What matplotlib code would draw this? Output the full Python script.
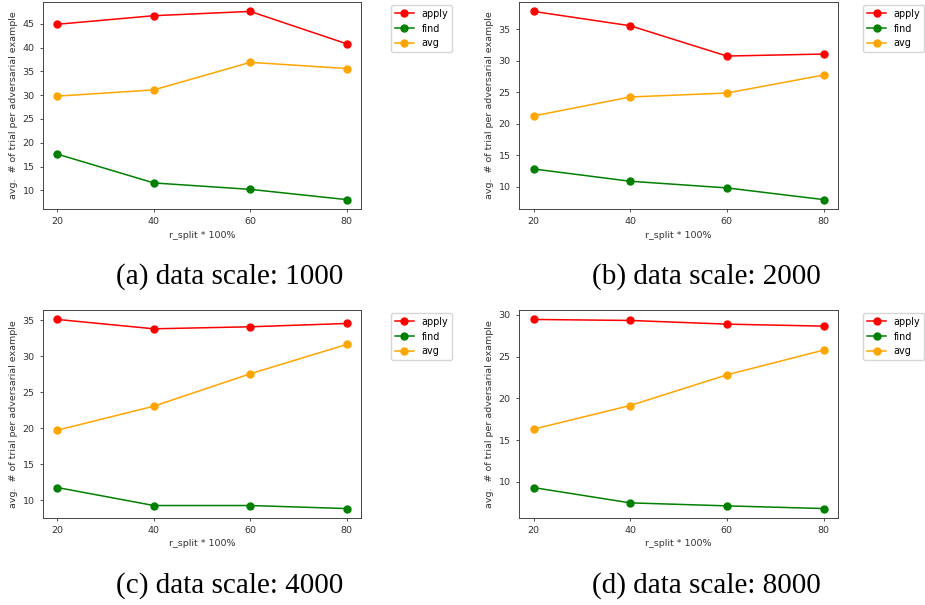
import matplotlib.pyplot as plt

r_split = [20, 40, 60, 80]

# (a) data scale 1000
apply_1000 = [44.9, 46.7, 47.6, 40.8]
find_1000 = [17.6, 11.55, 10.2, 8.05]
avg_1000 = [29.8, 31.1, 36.9, 35.6]

# (b) data scale 2000
apply_2000 = [37.86, 35.58, 30.76, 31.08]
find_2000 = [12.8, 10.85, 9.79, 7.93]
avg_2000 = [21.23, 24.25, 24.88, 27.74]

# (c) data scale 4000
apply_4000 = [35.14, 33.84, 34.12, 34.58]
find_4000 = [11.76, 9.26, 9.26, 8.84]
avg_4000 = [19.74, 23.08, 27.58, 31.66]

# (d) data scale 8000
apply_8000 = [29.44, 29.32, 28.88, 28.64]
find_8000 = [9.32, 7.49, 7.13, 6.81]
avg_8000 = [16.31, 19.14, 22.81, 25.77]

captions = ["(a) data scale: 1000", "(b) data scale: 2000",
            "(c) data scale: 4000", "(d) data scale: 8000"]
panels = [(apply_1000, find_1000, avg_1000),
          (apply_2000, find_2000, avg_2000),
          (apply_4000, find_4000, avg_4000),
          (apply_8000, find_8000, avg_8000)]

W, H = 925, 605
fig = plt.figure(figsize=(W / 100, H / 100), dpi=100)

# axes boxes in pixels: left, top, right, bottom
boxes = [(43, 2, 361, 209), (519, 2, 838, 209),
         (43, 310, 361, 518), (519, 310, 838, 518)]
cap_y = [277, 277, 586, 586]
# right-hand legends sit a little closer so the labels stay on the canvas
leg_x = [1.085, 1.07, 1.085, 1.07]

for i, (box, data) in enumerate(zip(boxes, panels)):
    l, t, r, b = box
    ax = fig.add_axes([l / W, 1 - b / H, (r - l) / W, (b - t) / H])
    a, f, v = data
    ax.plot(r_split, a, '-o', color='red', label='apply', lw=1.1, ms=5)
    ax.plot(r_split, f, '-o', color='green', label='find', lw=1.1, ms=5)
    ax.plot(r_split, v, '-o', color='orange', label='avg', lw=1.1, ms=5)
    ax.set_xticks(r_split)
    ax.tick_params(labelsize=6.8, colors='#333333', width=0.6, length=2.5)
    for s in ax.spines.values():
        s.set_linewidth(0.7)
        s.set_color('#444444')
    ax.set_xlabel("r_split * 100%", fontsize=6.8, color='#333333', labelpad=3)
    ax.set_ylabel("avg.  # of trial per adversarial example", fontsize=6.8,
                  color='#333333', labelpad=3)
    ax.legend(loc='upper left', bbox_to_anchor=(leg_x[i], 1.0), fontsize=6.9,
              handlelength=2.0, borderaxespad=0.3)
    fig.text((l + r) / 2 / W + 28 / W, 1 - cap_y[i] / H, captions[i],
             ha='center', va='center', fontsize=21,
             family='Liberation Serif')

fig.savefig('out.png', dpi=100)
